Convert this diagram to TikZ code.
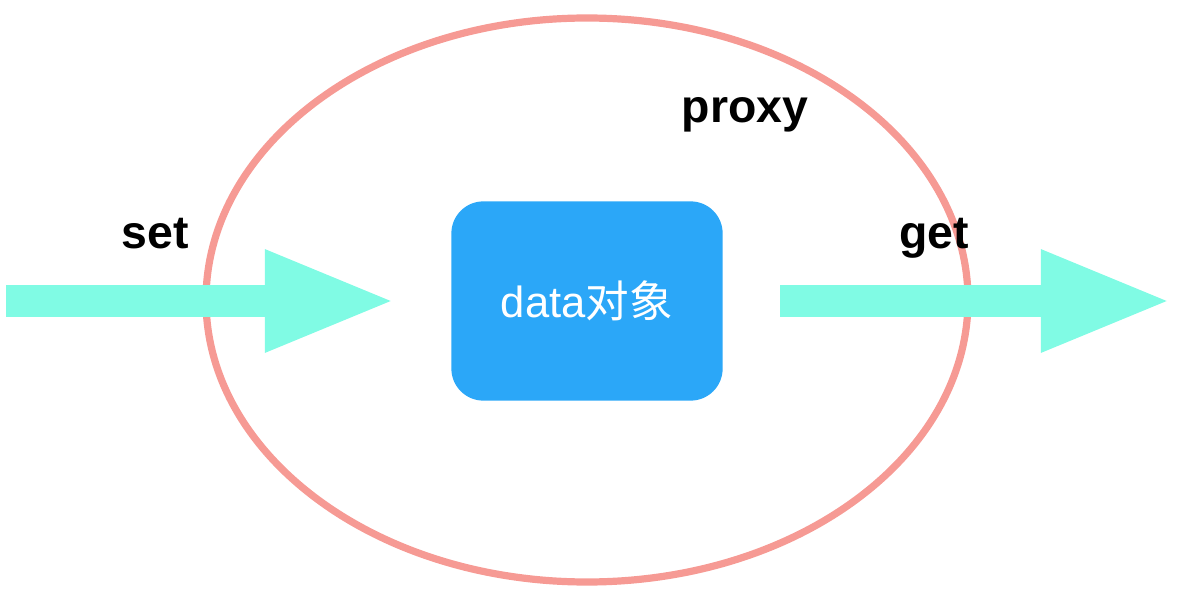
\documentclass[tikz,border=0pt]{standalone}
\usepackage{fontspec}
\setmainfont{Liberation Sans}
\newfontfamily\cjk{Noto Sans CJK SC}
\usetikzlibrary{arrows.meta, positioning}
\definecolor{ProxyRing}{HTML}{F69A94}
\definecolor{DataBlue}{HTML}{2BA7F8}
\definecolor{FlowAqua}{HTML}{80FBE4}

\tikzset{
    flow/.style={FlowAqua, line width=0.8cm, -{Triangle[length=3.3cm, width=2.32cm]}},
    tag/.style={font=\fontsize{33}{36}\selectfont\bfseries, inner sep=0pt, anchor=base}
}

\begin{document}
\begin{tikzpicture}[x=0.025cm, y=-0.025cm]
    \useasboundingbox (0,0) rectangle (1188,596);

    % proxy ring
    \draw[ProxyRing, line width=0.18cm] (587, 300) ellipse [x radius=381, y radius=282];
    \node[tag] (proxy) at (745, 123) {proxy};

    % target object
    \node[fill=DataBlue, rounded corners=0.8cm, minimum width=6.78cm, minimum height=4.98cm,
          text=white, font=\fontsize{31}{34}\selectfont] (data) at (587, 301) {data\cjk 对象};

    % set / get
    \coordinate (setin) at (6, 301);
    \coordinate (settip) at (397, 301);
    \coordinate (getout) at (780, 301);
    \coordinate (gettip) at (1173, 301);
    \draw[flow] (setin) -- (settip);
    \draw[flow] (getout) -- (gettip);
    \node[tag] (set) at (155, 249) {set};
    \node[tag] (get) at (934, 249) {get};
\end{tikzpicture}
\end{document}
